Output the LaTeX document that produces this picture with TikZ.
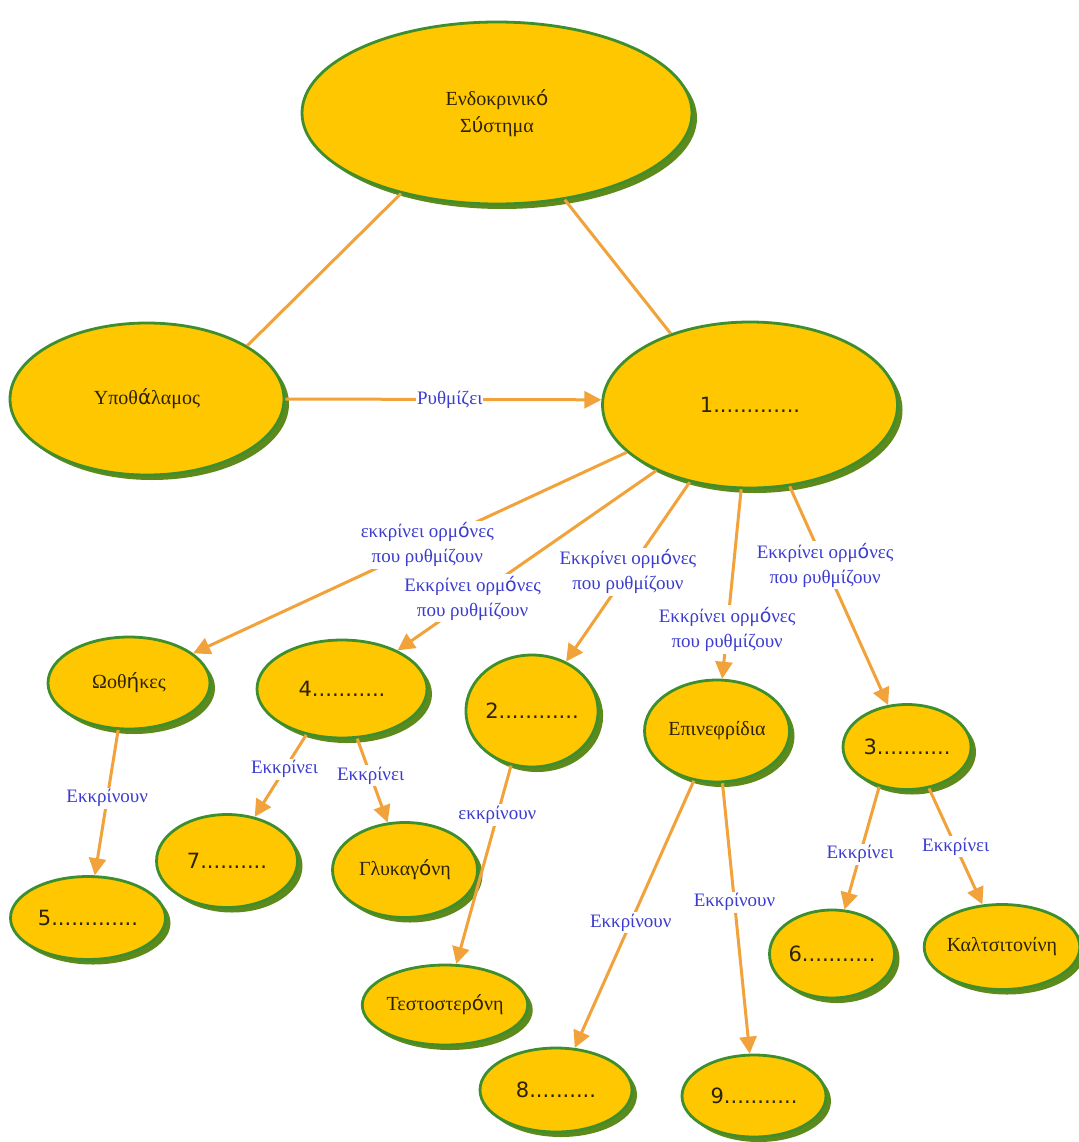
\documentclass[tikz,border=0pt]{standalone}
\usepackage{fontspec}
\setmainfont{Liberation Serif}
\newfontfamily\numfont{DejaVu Sans}
\usetikzlibrary{arrows.meta,shapes.geometric,shadows}

% accented vowels are set in a sans face
\newcommand\tn[1]{{\numfont #1}}

\definecolor{gold}{HTML}{FFC700}
\definecolor{rim}{HTML}{3E8E2E}
\definecolor{shade}{HTML}{5E8A1C}
\definecolor{wire}{HTML}{F2A23A}
\definecolor{ink}{HTML}{2E2204}
\definecolor{verb}{HTML}{3C3CD0}

\begin{document}
\begin{tikzpicture}[x=1pt,y=-1pt,
  bubble/.style={ellipse, fill=gold, draw=rim, line width=2.8pt, inner sep=0pt,
    text=ink, align=center, font=\fontsize{20}{27}\selectfont,
    drop shadow={shadow xshift=5pt, shadow yshift=-5pt, fill=shade, opacity=1}},
  blank/.style={bubble, font=\numfont\fontsize{21}{24}\selectfont},
  conn/.style={draw=wire, line width=3pt},
  tip/.style={-{Triangle[length=17pt,width=17pt]}},
  lbl/.style={fill=white, text=verb, align=center, inner xsep=1pt, inner ysep=2pt,
    font=\fontsize{19}{25}\selectfont}]

\fill[white] (0,0) rectangle (1078,1142);
\useasboundingbox (0,0) rectangle (1078,1142);

% ellipses
\node[bubble, minimum width=390, minimum height=182] (sys) at (497,113) {Ενδοκρινικ\tn{ό}\\Σ\tn{ύ}στημα};
\node[bubble, minimum width=274, minimum height=152] (hyp) at (147,399) {Υποθ\tn{ά}λαμος};
\node[blank, minimum width=295, minimum height=166] (n1) at (750,405) {1.............};
\node[bubble, minimum width=162, minimum height=92] (ov) at (129,683) {Ωοθ\tn{ή}κες};
\node[blank, minimum width=170, minimum height=98] (n4) at (342,689) {4...........};
\node[blank, minimum width=132, minimum height=112] (n2) at (532,711) {2............};
\node[bubble, minimum width=145, minimum height=102] (adr) at (717,731) {Επινεφρίδια};
\node[blank, minimum width=128, minimum height=85] (n3) at (907,747) {3...........};
\node[blank, minimum width=141, minimum height=93] (n7) at (227,861) {7..........};
\node[bubble, minimum width=145, minimum height=95] (glu) at (405,870) {Γλυκαγ\tn{ό}νη};
\node[blank, minimum width=155, minimum height=83] (n5) at (88,918) {5.............};
\node[bubble, minimum width=165, minimum height=80] (tes) at (445,1005) {Τεστοστερ\tn{ό}νη};
\node[blank, minimum width=125, minimum height=88] (n6) at (832,954) {6...........};
\node[bubble, minimum width=146, minimum height=85] (cal) at (1002,947) {Καλτσιτονίνη};
\node[blank, minimum width=152, minimum height=84] (n8) at (556,1090) {8..........};
\node[blank, minimum width=144, minimum height=82] (n9) at (754,1096) {9...........};

% connectors
\draw[conn] (sys.220) -- (hyp.28);
\draw[conn] (sys.308) -- (n1.138);
\draw[conn,tip] (hyp.east) -- node[lbl,pos=0.52]{Ρυθμίζει} (n1.178);
\draw[conn,tip] (n1.201) -- node[lbl,pos=0.46]{εκκρίνει ορμ\tn{ό}νες\\που ρυθμίζουν} (ov);
\draw[conn,tip] (n1.215) -- node[lbl,pos=0.71]{Εκκρίνει ορμ\tn{ό}νες\\που ρυθμίζουν} (n4);
\draw[conn,tip] (n1.232) -- node[lbl,pos=0.5]{Εκκρίνει ορμ\tn{ό}νες\\που ρυθμίζουν} (n2);
\draw[conn,tip] (n1.264) -- node[lbl,pos=0.74]{Εκκρίνει ορμ\tn{ό}νες\\που ρυθμίζουν} (adr);
\draw[conn,tip] (n1.296) -- node[lbl,pos=0.36]{Εκκρίνει ορμ\tn{ό}νες\\που ρυθμίζουν} (n3);
\draw[conn,tip] (ov.257) -- node[lbl,pos=0.47]{Εκκρίνουν} (n5);
\draw[conn,tip] (n4.232) -- node[lbl,pos=0.42]{Εκκρίνει} (n7);
\draw[conn,tip] (n4.287) -- node[lbl,pos=0.44]{Εκκρίνει} (glu);
\draw[conn,tip] (n2.249) -- node[lbl,pos=0.25]{εκκρίνουν} (tes);
\draw[conn,tip] (adr.245) -- node[lbl,pos=0.53]{Εκκρίνουν} (n8);
\draw[conn,tip] (adr.276) -- node[lbl,pos=0.44]{Εκκρίνουν} (n9);
\draw[conn,tip] (n3.235) -- node[lbl,pos=0.55]{Εκκρίνει} (n6);
\draw[conn,tip] (n3.298) -- node[lbl,pos=0.5]{Εκκρίνει} (cal);
\end{tikzpicture}
\end{document}
